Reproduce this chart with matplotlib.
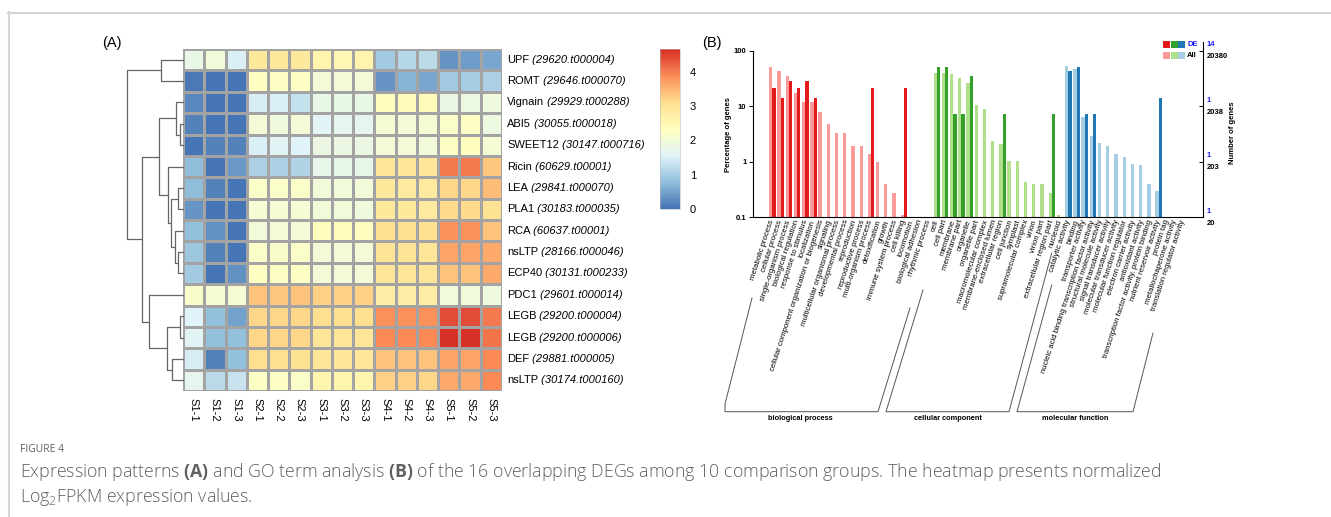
import numpy as np
import matplotlib
matplotlib.use("Agg")
import matplotlib.pyplot as plt
from matplotlib.colors import LinearSegmentedColormap, Normalize
from matplotlib.ticker import NullLocator

plt.rcParams['font.family'] = ['Liberation Sans', 'DejaVu Sans']
plt.rcParams['mathtext.fontset'] = 'custom'
plt.rcParams['mathtext.rm'] = 'Open Sans:light'
plt.rcParams['mathtext.bf'] = 'Open Sans:bold'

# ---------------- data: heatmap (A) ----------------
genes = ['UPF', 'ROMT', 'Vignain', 'ABI5', 'SWEET12', 'Ricin', 'LEA', 'PLA1',
         'RCA', 'nsLTP', 'ECP40', 'PDC1', 'LEGB', 'LEGB', 'DEF', 'nsLTP']
gene_ids = ['(29620.t000004)', '(29646.t000070)', '(29929.t000288)', '(30055.t000018)',
            '(30147.t000716)', '(60629.t00001)', '(29841.t000070)', '(30183.t000035)',
            '(60637.t00001)', '(28166.t000046)', '(30131.t000233)', '(29601.t000014)',
            '(29200.t000004)', '(29200.t000006)', '(29881.t000005)', '(30174.t000160)']
samples = ['S1-1', 'S1-2', 'S1-3', 'S2-1', 'S2-2', 'S2-3', 'S3-1', 'S3-2', 'S3-3',
           'S4-1', 'S4-2', 'S4-3', 'S5-1', 'S5-2', 'S5-3']
expr = np.array([
    [1.80, 2.00, 1.50, 2.90, 2.90, 2.90, 2.60, 2.55, 2.60, 0.95, 1.15, 1.20, 0.35, 0.45, 0.55],
    [0.05, 0.02, 0.02, 2.30, 2.25, 2.25, 2.05, 2.05, 2.05, 0.35, 0.70, 0.55, 0.95, 1.00, 1.05],
    [0.20, 0.02, 0.02, 1.45, 1.50, 1.30, 1.80, 1.80, 1.80, 2.35, 2.40, 2.40, 1.85, 1.90, 1.95],
    [0.15, 0.02, 0.02, 2.05, 1.95, 2.05, 1.60, 1.70, 1.70, 2.10, 2.05, 2.10, 2.20, 2.25, 1.90],
    [0.00, 0.15, 0.15, 1.50, 1.60, 1.55, 1.85, 1.85, 1.85, 2.05, 2.05, 2.00, 2.25, 2.35, 2.10],
    [0.75, 0.02, 0.40, 1.05, 1.05, 1.10, 1.75, 1.75, 1.75, 2.95, 2.95, 2.95, 4.05, 4.05, 3.35],
    [0.75, 0.15, 0.02, 2.20, 2.20, 2.20, 2.00, 2.00, 2.00, 2.90, 2.85, 2.85, 3.20, 3.20, 3.45],
    [0.35, 0.02, 0.02, 2.10, 2.10, 2.10, 2.00, 2.00, 1.95, 2.90, 2.90, 2.85, 3.15, 3.15, 3.05],
    [0.80, 0.30, 0.02, 2.00, 2.05, 2.05, 2.35, 2.35, 2.35, 3.10, 3.10, 3.10, 3.85, 3.85, 3.40],
    [0.90, 0.15, 0.02, 2.20, 2.15, 2.20, 2.05, 2.05, 2.05, 3.00, 3.00, 2.95, 3.65, 3.65, 3.60],
    [0.95, 0.02, 0.30, 2.30, 2.25, 2.25, 2.05, 2.05, 2.05, 2.95, 2.95, 2.95, 3.40, 3.40, 3.60],
    [2.15, 2.10, 2.10, 3.40, 3.35, 3.40, 3.25, 3.25, 3.25, 2.80, 2.80, 2.80, 2.00, 2.00, 1.95],
    [1.55, 0.80, 0.50, 3.20, 3.20, 3.20, 3.10, 3.10, 3.10, 3.85, 3.85, 3.85, 4.40, 4.40, 4.05],
    [1.60, 0.80, 0.80, 3.20, 3.20, 3.20, 2.95, 2.95, 2.95, 3.90, 3.90, 3.90, 4.65, 4.65, 4.10],
    [1.45, 0.15, 0.80, 3.10, 3.10, 3.05, 2.95, 2.95, 2.95, 3.40, 3.40, 3.40, 3.65, 3.65, 3.90],
    [1.70, 1.20, 1.35, 2.25, 2.25, 2.20, 2.60, 2.60, 2.60, 3.25, 3.25, 3.20, 3.60, 3.60, 3.90],
])
# row dendrogram merges (node a, node b, height); leaves 0-15 in display order
merges = [(0, 1, 22.3), (3, 4, 3.0), (2, 17, 7.0), (6, 7, 5.0), (9, 10, 5.0),
          (8, 20, 8.7), (19, 21, 12.0), (5, 22, 15.7), (18, 23, 24.7), (12, 13, 3.7),
          (14, 15, 11.3), (25, 26, 16.3), (11, 27, 34.7), (24, 28, 41.3), (16, 29, 56.3)]

# ---------------- data: GO terms (B) ----------------
bp_terms = ['metabolic process', 'cellular process', 'single-organism process',
            'biological regulation', 'response to stimulus', 'localization',
            'cellular component organization or biogenesis', 'signaling',
            'multicellular organismal process', 'developmental process', 'reproduction',
            'reproductive process', 'multi-organism process', 'detoxification', 'growth',
            'immune system process', 'cell killing', 'locomotion', 'biological adhesion',
            'rhythmic process']
cc_terms = ['cell', 'cell part', 'membrane', 'membrane part', 'organelle', 'organelle part',
            'macromolecular complex', 'membrane-enclosed lumen', 'extracellular region',
            'cell junction', 'symplast', 'supramolecular complex', 'virion', 'virion part',
            'extracellular region part', 'nucleoid']
mf_terms = ['catalytic activity', 'binding', 'transporter activity',
            'nucleic acid binding transcription factor activity',
            'structural molecule activity', 'signal transducer activity',
            'molecular transducer activity', 'molecular function regulator',
            'electron carrier activity', 'antioxidant activity',
            'transcription factor activity, protein binding', 'nutrient reservoir activity',
            'protein tag', 'metallochaperone activity', 'translation regulator activity']
bp_all = [50, 42.5, 34.5, 17, 12, 11.7, 7.8, 4.7, 3.3, 3.3, 1.95, 1.9, 1.38, 0.98,
          0.39, 0.27, 0.11, 0, 0, 0]
cc_all = [39.6, 39.6, 38, 32.7, 26.2, 10.5, 8.8, 2.4, 2.1, 1.03, 1.03, 0.43, 0.39, 0.39,
          0.277, 0.11]
mf_all = [53, 46, 6.3, 2.9, 2.2, 1.92, 1.38, 1.22, 0.91, 0.88, 0.40, 0.30, 0, 0, 0]
bp_de = [3, 2, 4, 3, 4, 2, 0, 0, 0, 0, 0, 0, 3, 0, 0, 0, 3, 0, 0, 0]
cc_de = [7, 7, 1, 1, 5, 0, 0, 0, 1, 0, 0, 0, 0, 0, 1, 0]
mf_de = [6, 7, 1, 1, 0, 0, 0, 0, 0, 0, 0, 2, 0, 0, 0]
n_de = 14
right_black = ['20', '203', '2038', '20380']
right_blue = ['1', '1', '1', '14']

W, H = 1331, 517
fig = plt.figure(figsize=(W / 100, H / 100), dpi=100)


def px_axes(x0, y0, x1, y1, **kw):
    a = fig.add_axes([x0 / W, 1 - y1 / H, (x1 - x0) / W, (y1 - y0) / H], **kw)
    a.patch.set_visible(False)
    return a


# overlay in pixel coordinates for frame, brackets, caption
ov = px_axes(0, 0, W, H)
ov.set_xlim(0, W)
ov.set_ylim(H, 0)
ov.axis('off')
ov.plot([8, W], [12.5, 12.5], color='#d4d4d4', lw=1.5)
ov.plot([8.5, 8.5], [12, H], color='#d4d4d4', lw=1.5)

# ==================================================
# (A) heatmap
# ==================================================
hm_cols = ['#4575B4', '#91BFDB', '#E0F3F8', '#FFFFBF', '#FEE090', '#FC8D59', '#D73027']
cmap = LinearSegmentedColormap.from_list('hm', hm_cols, N=100)
norm = Normalize(vmin=0, vmax=4.67)

ax_h = px_axes(183, 49, 502, 391)
ax_h.pcolormesh(np.arange(len(samples) + 1), np.arange(len(genes) + 1), expr,
                cmap=cmap, norm=norm, edgecolors='#a3a3a3', linewidth=0.8)
ax_h.set_xlim(0, len(samples))
ax_h.set_ylim(len(genes), 0)
for s in ax_h.spines.values():
    s.set_visible(False)
ax_h.set_yticks([])
ax_h.set_xticks(np.arange(len(samples)) + 0.5)
ax_h.set_xticklabels(samples, rotation=-90, fontsize=8, va='top')
ax_h.tick_params(axis='x', length=0, pad=5)

# row labels: name upright + id italic
renderer = fig.canvas.get_renderer()
for i, (g, gid) in enumerate(zip(genes, gene_ids)):
    t = ax_h.text(1 + 5 / 319, i + 0.5, g, transform=ax_h.get_yaxis_transform(),
                  fontsize=8, va='center', ha='left')
    bb = t.get_window_extent(renderer)
    ax_h.text(1 + (5 + bb.width) / 319, i + 0.5, ' ' + gid,
              transform=ax_h.get_yaxis_transform(), fontsize=8, va='center',
              ha='left', fontstyle='italic')

# dendrogram
ax_d = px_axes(126, 49, 183.5, 391)
ax_d.set_ylim(len(genes), 0)
ax_d.set_xlim(57.2, 0)
ax_d.axis('off')
pos = {i: i + 0.5 for i in range(len(genes))}
hgt = {i: 0.0 for i in range(len(genes))}
for k, (a, b, h) in enumerate(merges):
    ax_d.plot([hgt[a], h, h, hgt[b]], [pos[a], pos[a], pos[b], pos[b]],
              color='#666666', lw=0.9, solid_capstyle='butt')
    node = len(genes) + k
    pos[node] = (pos[a] + pos[b]) / 2
    hgt[node] = h

# colorbar
cax = px_axes(660, 49, 680, 209)
cb = fig.colorbar(matplotlib.cm.ScalarMappable(norm=norm, cmap=cmap), cax=cax)
cb.set_ticks([0, 1, 2, 3, 4])
cb.ax.tick_params(length=0, labelsize=8, pad=7)
cb.outline.set_linewidth(0.4)
cb.outline.set_edgecolor('#bbbbbb')

ov.text(112, 43, '(A)', fontsize=10.5, ha='center', va='center')

# ==================================================
# (B) GO bar chart
# ==================================================
terms = bp_terms + cc_terms + mf_terms
all_pct = np.array(bp_all + cc_all + mf_all, dtype=float)
de_pct = np.array(bp_de + cc_de + mf_de, dtype=float) / n_de * 100
light = (['#fb9a99'] * len(bp_terms) + ['#b2df8a'] * len(cc_terms)
         + ['#a6cee3'] * len(mf_terms))
dark = (['#e31a1c'] * len(bp_terms) + ['#33a02c'] * len(cc_terms)
        + ['#1f78b4'] * len(mf_terms))
xs = np.arange(len(terms))

ax = px_axes(752.7, 50.7, 1202.7, 217.3)
ax.set_yscale('log')
m = all_pct > 0
ax.bar(xs[m] - 0.2, all_pct[m] - 0.1, width=0.4, color=np.array(light)[m], bottom=0.1)
m = de_pct > 0
ax.bar(xs[m] + 0.2, de_pct[m] - 0.1, width=0.4, color=np.array(dark)[m], bottom=0.1)
ax.set_ylim(0.1, 100)
ax.set_xlim(-2.4, 52.35)
ax.yaxis.set_minor_locator(NullLocator())
ax.set_yticks([0.1, 1, 10, 100])
ax.set_yticklabels(['0.1', '1', '10', '100'], fontsize=5.5, fontweight='bold')
ax.tick_params(axis='y', length=3, width=0.7, pad=1.5)
ax.set_xticks(xs)
ax.set_xticklabels(terms, rotation=72, ha='right', va='center',
                   rotation_mode='anchor', fontsize=5.6)
ax.tick_params(axis='x', length=0, pad=2)
ax.spines['top'].set_visible(False)
ax.spines['right'].set_visible(False)
for s in ('left', 'bottom'):
    ax.spines[s].set_linewidth(0.8)
ax.set_ylabel('Percentage of genes', fontsize=5.5, fontweight='bold', labelpad=1)

ax2 = ax.twinx()
ax2.patch.set_visible(False)
ax2.set_yscale('log')
ax2.set_ylim(0.1, 100)
ax2.yaxis.set_minor_locator(NullLocator())
ax2.set_yticks([0.1, 1, 10, 100])
ax2.set_yticklabels([])
ax2.tick_params(axis='y', direction='in', length=3, width=0.7)
for s in ('top', 'left', 'bottom'):
    ax2.spines[s].set_visible(False)
ax2.spines['right'].set_linewidth(0.8)
ax2.spines['right'].set_bounds(0.1, 145)
for v, lb, lu in zip([0.1, 1, 10, 100], right_black, right_blue):
    ax.annotate(lu, xy=(1, v), xycoords=('axes fraction', 'data'), xytext=(4, 6),
                textcoords='offset pixels', fontsize=5.5, fontweight='bold',
                color='#1a1aff', va='center', ha='left', annotation_clip=False)
    ax.annotate(lb, xy=(1, v), xycoords=('axes fraction', 'data'), xytext=(4, -6),
                textcoords='offset pixels', fontsize=5.5, fontweight='bold',
                color='black', va='center', ha='left', annotation_clip=False)
ov.text(1232, 133, 'Number of genes', rotation=90, fontsize=5.5, fontweight='bold',
        ha='center', va='center')

# legend
for k, (cd, cl) in enumerate(zip(['#e31a1c', '#33a02c', '#1f78b4'],
                                 ['#fb9a99', '#b2df8a', '#a6cee3'])):
    ov.add_patch(plt.Rectangle((1163 + k * 7.5, 40.7), 7, 7.3, color=cd, lw=0))
    ov.add_patch(plt.Rectangle((1163 + k * 7.5, 51.7), 7, 7.3, color=cl, lw=0))
ov.text(1187, 44.3, 'DE', fontsize=5.5, fontweight='bold', color='#1a1aff', va='center')
ov.text(1187, 55.5, 'All', fontsize=5.5, fontweight='bold', color='black', va='center')

# group brackets
brackets = [((725, 404), (752, 298), (878, 411.7), (910, 308)),
            ((886, 411.7), (923, 290), (1009, 411.7), (1051.7, 253)),
            ((1017, 411.7), (1051.7, 285), (1133, 411.7), (1153, 333))]
for (lb, lt, rb, rt) in brackets:
    ov.plot([lt[0], lb[0], lb[0], rb[0], rt[0]], [lt[1], lb[1], 411.7, rb[1], rt[1]],
            color='#555555', lw=0.7)
ov.text(800, 418, 'biological process', fontsize=5.3, fontweight='bold', ha='center', va='center')
ov.text(948, 418, 'cellular component', fontsize=5.3, fontweight='bold', ha='center', va='center')
ov.text(1075, 418, 'molecular function', fontsize=5.3, fontweight='bold', ha='center', va='center')

ov.text(712, 43, '(B)', fontsize=10.5, ha='center', va='center')

# caption
cap_col = '#606060'
ov.text(20, 449, 'FIGURE 4', fontsize=7.5, color=cap_col, va='center',
        family='Open Sans')
ov.text(20, 472, r'Expression patterns $\mathbf{(A)}$ and GO term analysis $\mathbf{(B)}$ '
        'of the 16 overlapping DEGs among 10 comparison groups. The heatmap presents normalized',
        fontsize=12.8, color=cap_col, va='center', family='Open Sans', fontweight='light')
ov.text(20, 497, r'Log$_2$FPKM expression values.', fontsize=12.8, color=cap_col,
        va='center', family='Open Sans', fontweight='light')

fig.savefig('out.png', dpi=100)
